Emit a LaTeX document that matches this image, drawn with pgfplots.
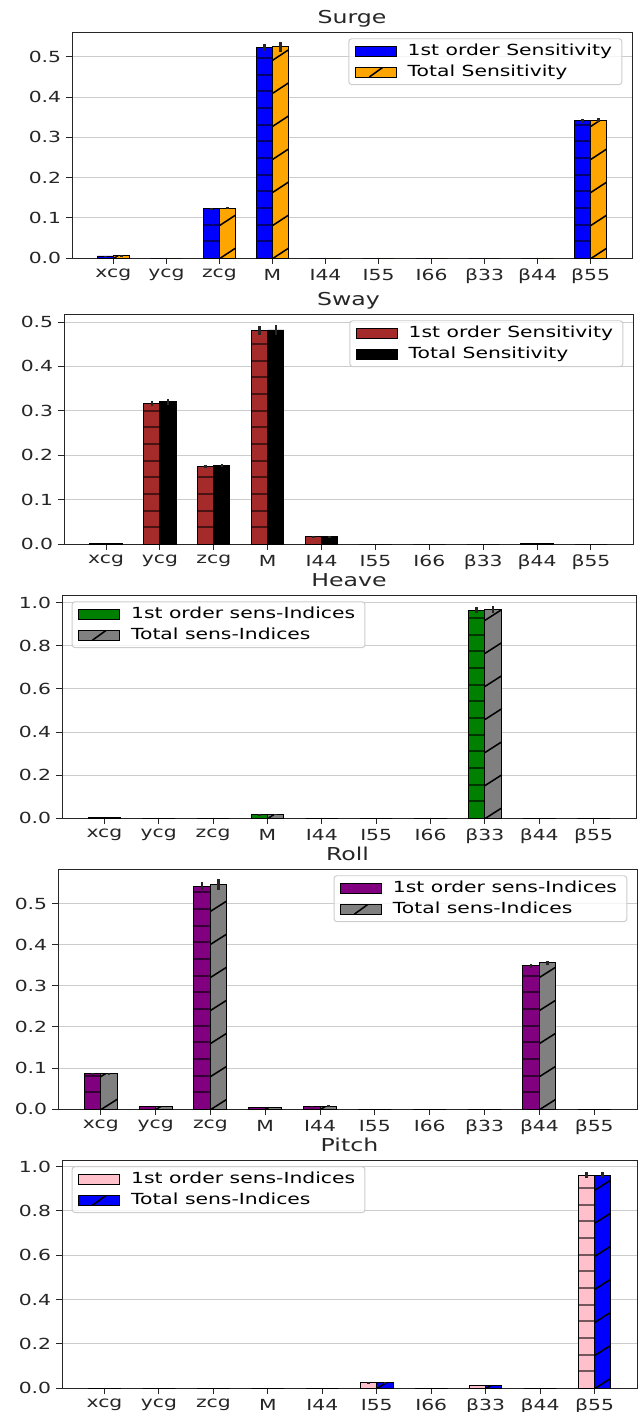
\documentclass[border=0pt]{standalone}
\usepackage{pgfplots}
\pgfplotsset{compat=1.18}
\usepackage{pgfplotstable}
\usepackage{fontspec}
\setmainfont{DejaVu Sans}[FakeStretch=1.33]
\newcommand\tickfont{\fontsize{11}{13}\selectfont}
\newcommand\titlefont{\fontsize{12.8}{15}\selectfont}

\definecolor{cblue}{HTML}{0000FF}
\definecolor{corange}{HTML}{FFA500}
\definecolor{cbrown}{HTML}{A52A2A}
\definecolor{cgreen}{HTML}{008000}
\definecolor{cgray}{HTML}{808080}
\definecolor{cpurple}{HTML}{800080}
\definecolor{cpink}{HTML}{FFC0CB}

% Hatches, drawn with basic-layer paths inside the bars of one series.
% The ten bars of a series form one path whose box runs from the left edge
% of the first bar to the right edge of the last: 9.3 category units.
\tikzset{
  hlines/.style={path picture={%
    \pgfsetstrokecolor{#1}\pgfsetlinewidth{1.4pt}%
    \foreach \k in {1,...,16}{%
      \pgfpathmoveto{\pgfpointadd{\pgfpointanchor{path picture bounding box}{south west}}{\pgfpoint{0pt}{\k*12pt}}}%
      \pgfpathlineto{\pgfpointadd{\pgfpointanchor{path picture bounding box}{south east}}{\pgfpoint{0pt}{\k*12pt}}}%
      \pgfusepath{stroke}}}},
  dlines/.style={path picture={%
    \pgfsetstrokecolor{#1}\pgfsetlinewidth{1.1pt}%
    \pgfpointanchor{path picture bounding box}{south west}\pgfgetlastxy{\hatchx}{\hatchy}%
    \pgfpointanchor{path picture bounding box}{south east}\pgfgetlastxy{\hatchxe}{\hatchye}%
    \ifdim\hatchxe<\hatchx\relax\else
      \pgfmathsetmacro{\hatchw}{\hatchxe-\hatchx}%
      \ifdim\hatchw pt<60pt
        % legend swatch: a single slanted stroke
        \pgfpathmoveto{\pgfpoint{\hatchx+10pt}{\hatchy}}%
        \pgfpathlineto{\pgfpoint{\hatchx+20pt}{\hatchy+7.2pt}}%
        \pgfusepath{stroke}%
      \else
        \pgfmathsetmacro{\hatchu}{\hatchw/9.3}%
        \foreach \i in {0,...,9}{%
          \foreach \k in {0,...,8}{%
            \pgfpathmoveto{\pgfpoint{\hatchx+\i*\hatchu pt}{\hatchy+\k*23.8pt-0.5pt}}%
            \pgfpathlineto{\pgfpoint{\hatchx+\i*\hatchu pt+0.3*\hatchu pt}{\hatchy+\k*23.8pt+7pt}}%
            \pgfusepath{stroke}}}%
      \fi
    \fi}},
}

% columns: position, first-order index, its error, total index, its error
\pgfplotstableread{
x f fe t te
0 0.005 0.0005 0.006 0.0006
1 0 0 0 0
2 0.123 0.002 0.124 0.002
3 0.524 0.009 0.525 0.013
4 0 0 0 0
5 0 0 0 0
6 0 0 0 0
7 0 0 0 0
8 0 0 0 0
9 0.341 0.005 0.342 0.005
}\surge
\pgfplotstableread{
x f fe t te
0 0.002 0 0.002 0
1 0.316 0.005 0.320 0.006
2 0.174 0.003 0.177 0.003
3 0.481 0.010 0.482 0.012
4 0.016 0.001 0.016 0.001
5 0 0 0 0
6 0 0 0 0
7 0 0 0 0
8 0.002 0 0.001 0
9 0 0 0 0
}\sway
\pgfplotstableread{
x f fe t te
0 0.004 0 0.004 0
1 0 0 0 0
2 0 0 0 0
3 0.016 0.001 0.017 0.001
4 0 0 0 0
5 0 0 0 0
6 0 0 0 0
7 0.967 0.014 0.968 0.016
8 0 0 0 0
9 0 0 0 0
}\heave
\pgfplotstableread{
x f fe t te
0 0.086 0.001 0.086 0.001
1 0.006 0 0.006 0
2 0.543 0.010 0.547 0.013
3 0.003 0 0.003 0
4 0.006 0.001 0.007 0.002
5 0 0 0 0
6 0 0 0 0
7 0 0 0 0
8 0.349 0.005 0.356 0.005
9 0 0 0 0
}\roll
\pgfplotstableread{
x f fe t te
0 0 0 0 0
1 0 0 0 0
2 0 0 0 0
3 0 0 0 0
4 0 0 0 0
5 0.024 0.001 0.024 0.001
6 0 0 0 0
7 0.012 0 0.012 0
8 0 0 0 0
9 0.962 0.013 0.962 0.015
}\pitch

\pgfplotsset{
  panel/.style={
    scale only axis, ybar, bar width=0.3,
    xmin=-0.78, xmax=9.78, ymin=0, enlargelimits=false,
    xtick={0,...,9},
    xticklabels={xcg,ycg,zcg,M,I44,I55,I66,β33,β44,β55},
    tick pos=left, tick align=outside, major tick length=4.3pt,
    major tick style={black!85, line width=0.7pt},
    axis line style={black!85, line width=0.7pt},
    ymajorgrids, grid style={black!20, line width=0.7pt},
    ticklabel style={font=\tickfont, text=black!85},
    every axis title shift=0pt,
    title style={font=\titlefont, text=black!85, at={(0.5,1)}, anchor=base, yshift=6pt},
    legend cell align=left,
    legend style={font=\tickfont, draw=black!20, line width=0.7pt, fill=white,
      fill opacity=0.8, text opacity=1, rounded corners=2pt,
      inner xsep=4pt, inner ysep=1.5pt,
      nodes={inner xsep=3pt, inner ysep=2pt, text height=8.4pt, text depth=2.6pt}},
    legend image code/.code={%
      \draw[#1, sharp corners, fill opacity=1, draw opacity=1, line width=0.7pt]
        (0pt,-3.6pt) rectangle (29.5pt,3.6pt);
      \path (34pt,0pt);},
    error bars/y dir=both, error bars/y explicit,
    error bars/error mark=none,
    error bars/error bar style={line width=1.8pt, black!85},
  },
  legUR/.style={legend style={at={(1,1)}, anchor=north east, xshift=-7pt, yshift=-4.5pt}},
  legUL/.style={legend style={at={(0,1)}, anchor=north west, xshift=7pt, yshift=-4.5pt}},
}

\begin{document}
\begin{tikzpicture}

% Surge
\begin{axis}[panel, legUR, title=Surge,
  at={(51.84pt,-185.76pt)}, anchor=south west, width=403.2pt, height=162.72pt,
  ymax=0.562, ytick={0,0.1,...,0.5}, yticklabels={0.0,0.1,0.2,0.3,0.4,0.5}]
\addplot[draw=black, line width=0.7pt, fill=cblue, hlines=cblue!45!black, bar shift=-0.15]
  table[x=x, y=f, y error=fe] {\surge};
\addplot[draw=black, line width=0.7pt, fill=corange, dlines=black, bar shift=0.15]
  table[x=x, y=t, y error=te] {\surge};
\legend{1st order Sensitivity, Total Sensitivity}
\end{axis}

% Sway
\begin{axis}[panel, legUR, title=Sway,
  at={(46.08pt,-391.68pt)}, anchor=south west, width=409.68pt, height=165.6pt,
  ymax=0.518, ytick={0,0.1,...,0.5}, yticklabels={0.0,0.1,0.2,0.3,0.4,0.5}]
\addplot[draw=black, line width=0.7pt, fill=cbrown, hlines=cbrown!45!black, bar shift=-0.15]
  table[x=x, y=f, y error=fe] {\sway};
\addplot[draw=black, line width=0.7pt, fill=black, bar shift=0.15]
  table[x=x, y=t, y error=te] {\sway};
\legend{1st order Sensitivity, Total Sensitivity}
\end{axis}

% Heave
\begin{axis}[panel, legUL, title=Heave,
  at={(44.64pt,-588.96pt)}, anchor=south west, width=413.28pt, height=160.56pt,
  ymax=1.037, ytick={0,0.2,...,1.0}, yticklabels={0.0,0.2,0.4,0.6,0.8,1.0}]
\addplot[draw=black, line width=0.7pt, fill=cgreen, hlines=cgreen!40!black, bar shift=-0.15]
  table[x=x, y=f, y error=fe] {\heave};
\addplot[draw=black, line width=0.7pt, fill=cgray, dlines=black, bar shift=0.15]
  table[x=x, y=t, y error=te] {\heave};
\legend{1st order sens-Indices, Total sens-Indices}
\end{axis}

% Roll
\begin{axis}[panel, legUR, title=Roll,
  at={(41.76pt,-798.48pt)}, anchor=south west, width=416.88pt, height=172.8pt,
  ymax=0.585, ytick={0,0.1,...,0.5}, yticklabels={0.0,0.1,0.2,0.3,0.4,0.5}]
\addplot[draw=black, line width=0.7pt, fill=cpurple, hlines=cpurple!40!black, bar shift=-0.15]
  table[x=x, y=f, y error=fe] {\roll};
\addplot[draw=black, line width=0.7pt, fill=cgray, dlines=black, bar shift=0.15]
  table[x=x, y=t, y error=te] {\roll};
\legend{1st order sens-Indices, Total sens-Indices}
\end{axis}

% Pitch
\begin{axis}[panel, legUL, title=Pitch,
  at={(44.64pt,-999.36pt)}, anchor=south west, width=414pt, height=164.16pt,
  ymax=1.03, ytick={0,0.2,...,1.0}, yticklabels={0.0,0.2,0.4,0.6,0.8,1.0}]
\addplot[draw=black, line width=0.7pt, fill=cpink, hlines=cpink!45!black, bar shift=-0.15]
  table[x=x, y=f, y error=fe] {\pitch};
\addplot[draw=black, line width=0.7pt, fill=cblue, dlines=black, bar shift=0.15]
  table[x=x, y=t, y error=te] {\pitch};
\legend{1st order sens-Indices, Total sens-Indices}
\end{axis}

\pgfresetboundingbox
\path[use as bounding box] (0pt,0pt) rectangle (458.64pt,-1016.64pt);
\end{tikzpicture}
\end{document}
